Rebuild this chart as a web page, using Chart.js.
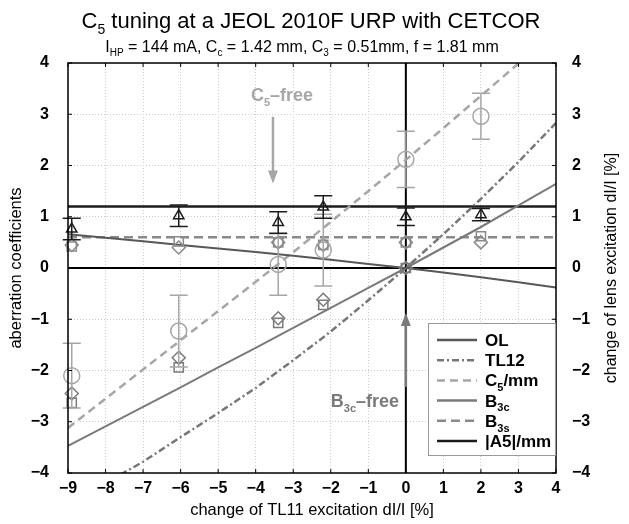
<!DOCTYPE html>
<html>
<head>
<meta charset="utf-8">
<script src="https://cdn.jsdelivr.net/npm/chart.js@4"></script>
<style>
html, body { margin: 0; padding: 0; background: #fff; }
</style>
</head>
<body>
<canvas id="c5chart" width="629" height="524"></canvas>
<script>
// measured points (x = TL11 excitation change)
var measX = [-8.9, -6.05, -3.4, -2.2, 0, 2.0];
var c5Meas = [-2.1, -1.23, 0.07, 0.35, 2.12, 2.96];
var c5Err = [0.63, 0.7, 0.6, 0.7, 0.55, 0.45];
var a5Meas = [0.76, 1.02, 0.89, 1.19, 1.0, 1.04];
var a5Err = [0.21, 0.21, 0.21, 0.22, 0.17, 0.12];
var b3sSquare = [0.42, 0.52, 0.5, 0.45, 0.5, 0.62];
var b3sDiamond = [0.45, 0.4, 0.5, 0.45, 0.5, 0.5];
var b3cSquare = [-2.63, -1.94, -1.07, -0.72, 0];
var b3cDiamond = [-2.45, -1.75, -0.98, -0.62, 0];

// fitted curves
var fitX = [-9, -8, -7, -6, -5, -4, -3, -2, -1, 0, 1, 2, 3, 4];
var olFit = [0.66, 0.59, 0.52, 0.45, 0.38, 0.31, 0.24, 0.16, 0.08, 0, -0.09, -0.18, -0.28, -0.38];
var tl12Fit = [-4.6, -4.2, -3.78, -3.3, -2.83, -2.34, -1.8, -1.24, -0.63, 0, 0.66, 1.35, 2.07, 2.83];
var c5Fit = [-3.12, -2.55, -1.98, -1.41, -0.84, -0.27, 0.31, 0.9, 1.5, 2.11, 2.73, 3.36, 3.99, 4.62];
var b3cFit = [-3.47, -3.09, -2.71, -2.33, -1.94, -1.56, -1.17, -0.78, -0.39, 0, 0.4, 0.8, 1.22, 1.64];
var b3sLevel = 0.6;
var a5Level = 1.2;

var xTicks = [-9, -8, -7, -6, -5, -4, -3, -2, -1, 0, 1, 2, 3, 4];
var yTicks = [-4, -3, -2, -1, 0, 1, 2, 3, 4];

var FONT = '"Liberation Sans", Arial, Helvetica, sans-serif';

var colOL = '#585858', colTL12 = '#777777', colC5 = '#a6a6a6',
    colB3c = '#7a7a7a', colB3s = '#8a8a8a', colA5 = '#1c1c1c';

function pts(xs, ys) {
  return ys.map(function (v, i) { return { x: xs[i], y: v }; });
}

function minusLabel(v) {
  return v < 0 ? '\u2212' + Math.abs(v) : String(v);
}

// text with subscripts: parts = [[text, isSub], ...]
function richWidth(ctx, parts, size, weight) {
  var w = 0;
  parts.forEach(function (p) {
    ctx.font = weight + ' ' + (p[1] ? Math.round(size * 0.62) : size) + 'px ' + FONT;
    w += ctx.measureText(p[0]).width;
  });
  return w;
}
function drawRich(ctx, parts, x, y, size, weight, color, align) {
  ctx.save();
  ctx.fillStyle = color;
  ctx.textBaseline = 'alphabetic';
  ctx.textAlign = 'left';
  var w = richWidth(ctx, parts, size, weight);
  var cx = align === 'center' ? x - w / 2 : x;
  parts.forEach(function (p) {
    var s = p[1] ? Math.round(size * 0.62) : size;
    ctx.font = weight + ' ' + s + 'px ' + FONT;
    ctx.fillText(p[0], cx, p[1] ? y + size * 0.28 : y);
    cx += ctx.measureText(p[0]).width;
  });
  ctx.restore();
}

function errBars(chart, xs, ys, errs, color, half) {
  var ctx = chart.ctx, sx = chart.scales.x, sy = chart.scales.y;
  ctx.save();
  ctx.strokeStyle = color;
  ctx.lineWidth = 1.5;
  ctx.beginPath();
  for (var i = 0; i < xs.length; i++) {
    var px = sx.getPixelForValue(xs[i]);
    var t = sy.getPixelForValue(ys[i] + errs[i]);
    var b = sy.getPixelForValue(ys[i] - errs[i]);
    ctx.moveTo(px, t); ctx.lineTo(px, b);
    ctx.moveTo(px - half, t); ctx.lineTo(px + half, t);
    ctx.moveTo(px - half, b); ctx.lineTo(px + half, b);
  }
  ctx.stroke();
  ctx.restore();
}

function arrow(ctx, x, y1, y2, color) {
  // shaft from y1 to tip y2
  var dir = y2 > y1 ? 1 : -1;
  ctx.save();
  ctx.strokeStyle = color; ctx.fillStyle = color; ctx.lineWidth = 2.5;
  ctx.beginPath(); ctx.moveTo(x, y1); ctx.lineTo(x, y2 - dir * 10); ctx.stroke();
  ctx.beginPath();
  ctx.moveTo(x, y2); ctx.lineTo(x - 5, y2 - dir * 13); ctx.lineTo(x + 5, y2 - dir * 13);
  ctx.closePath(); ctx.fill();
  ctx.restore();
}

var legendItems = [
  { parts: [['OL', 0]], color: colOL, dash: [], width: 2.5 },
  { parts: [['TL12', 0]], color: colTL12, dash: [7, 3, 2, 3], width: 2.5 },
  { parts: [['C', 0], ['5', 1], ['/mm', 0]], color: colC5, dash: [8, 5], width: 2.5 },
  { parts: [['B', 0], ['3c', 1]], color: colB3c, dash: [], width: 2.5 },
  { parts: [['B', 0], ['3s', 1]], color: colB3s, dash: [9, 5], width: 2.5 },
  { parts: [['|A5|/mm', 0]], color: colA5, dash: [], width: 2.5 }
];

var decorations = {
  id: 'decorations',
  beforeDatasetsDraw: function (chart) {
    var ctx = chart.ctx, a = chart.chartArea, sx = chart.scales.x, sy = chart.scales.y;
    var x0 = sx.getPixelForValue(0), y0 = sy.getPixelForValue(0);
    ctx.save();
    ctx.strokeStyle = '#000';
    ctx.lineWidth = 2;
    ctx.beginPath();
    ctx.moveTo(a.left, y0); ctx.lineTo(a.right, y0);
    ctx.moveTo(x0, a.top); ctx.lineTo(x0, a.bottom);
    ctx.stroke();
    ctx.restore();
  },
  afterDatasetsDraw: function (chart) {
    var ctx = chart.ctx, a = chart.chartArea, sx = chart.scales.x, sy = chart.scales.y;
    errBars(chart, measX, c5Meas, c5Err, colC5, 9);
    errBars(chart, measX, a5Meas, a5Err, colA5, 9);

    // annotations
    drawRich(ctx, [['C', 0], ['5', 1], ['\u2013free', 0]],
      sx.getPixelForValue(-3.3), sy.getPixelForValue(3.25), 18, 'bold', colC5, 'center');
    arrow(ctx, sx.getPixelForValue(-3.54), sy.getPixelForValue(2.95), sy.getPixelForValue(1.65), colC5);
    drawRich(ctx, [['B', 0], ['3c', 1], ['\u2013free', 0]],
      sx.getPixelForValue(-2.0), sy.getPixelForValue(-2.72), 18, 'bold', colB3c, 'left');
    arrow(ctx, sx.getPixelForValue(0), sy.getPixelForValue(-2.32), sy.getPixelForValue(-0.88), colB3c);

    // frame and inward ticks
    ctx.save();
    ctx.strokeStyle = '#000';
    ctx.lineWidth = 1.5;
    ctx.strokeRect(a.left, a.top, a.right - a.left, a.bottom - a.top);
    ctx.lineWidth = 1;
    ctx.beginPath();
    xTicks.forEach(function (v) {
      var p = sx.getPixelForValue(v);
      ctx.moveTo(p, a.bottom); ctx.lineTo(p, a.bottom - 4);
      ctx.moveTo(p, a.top); ctx.lineTo(p, a.top + 4);
    });
    yTicks.forEach(function (v) {
      var p = sy.getPixelForValue(v);
      ctx.moveTo(a.left, p); ctx.lineTo(a.left + 4, p);
      ctx.moveTo(a.right, p); ctx.lineTo(a.right - 4, p);
    });
    ctx.stroke();
    ctx.restore();
  },
  afterDraw: function (chart) {
    var ctx = chart.ctx, a = chart.chartArea;

    // legend box
    var bx = 428, by = 323, bw = a.right - bx, bh = 133;
    ctx.save();
    ctx.fillStyle = '#fff';
    ctx.fillRect(bx, by, bw, bh);
    ctx.strokeStyle = '#999';
    ctx.lineWidth = 1;
    ctx.strokeRect(bx + 0.5, by + 0.5, bw - 1, bh - 1);
    legendItems.forEach(function (it, i) {
      var ly = by + 17 + i * 20.2;
      ctx.strokeStyle = it.color;
      ctx.lineWidth = it.width;
      ctx.setLineDash(it.dash);
      ctx.beginPath(); ctx.moveTo(437, ly); ctx.lineTo(477, ly); ctx.stroke();
      ctx.setLineDash([]);
      drawRich(ctx, it.parts, 485, ly + 6, 17, 'bold', '#000', 'left');
    });
    ctx.restore();

    // titles
    drawRich(ctx, [['C', 0], ['5', 1], [' tuning at a JEOL 2010F URP with CETCOR', 0]],
      311, 28, 22, 'normal', '#000', 'center');
    drawRich(ctx, [['I', 0], ['HP', 1], [' = 144 mA, C', 0], ['c', 1], [' = 1.42 mm, C', 0],
      ['3', 1], [' = 0.51mm, f = 1.81 mm', 0]], 302, 52, 16, 'normal', '#000', 'center');

    // right axis title
    ctx.save();
    ctx.translate(612, (a.top + a.bottom) / 2);
    ctx.rotate(-Math.PI / 2);
    ctx.font = '16px ' + FONT;
    ctx.fillStyle = '#000';
    ctx.textAlign = 'center';
    ctx.textBaseline = 'middle';
    ctx.fillText('change of lens excitation dI/I [%]', 0, 0);
    ctx.restore();
  }
};

function lineSet(label, data, color, dash, width) {
  return {
    label: label, data: data, showLine: true, pointRadius: 0,
    borderColor: color, borderWidth: width, borderDash: dash, fill: false
  };
}
function markSet(label, data, style, radius, color) {
  return {
    label: label, data: data, showLine: false, pointStyle: style,
    pointRadius: radius, pointBorderWidth: 1.5, borderColor: color,
    backgroundColor: 'rgba(0,0,0,0)', clip: false
  };
}

new Chart(document.getElementById('c5chart'), {
  type: 'scatter',
  data: {
    datasets: [
      markSet('A5 measured', pts(measX, a5Meas), 'triangle', 6, colA5),
      markSet('C5 measured', pts(measX, c5Meas), 'circle', 8, colC5),
      markSet('B3s square', pts(measX, b3sSquare), 'rect', 6.5, colB3s),
      markSet('B3s diamond', pts(measX, b3sDiamond), 'rectRot', 6.5, colB3s),
      markSet('B3c square', pts(measX, b3cSquare), 'rect', 6.5, colB3c),
      markSet('B3c diamond', pts(measX, b3cDiamond), 'rectRot', 6.5, colB3c),
      lineSet('OL', pts(fitX, olFit), colOL, [], 2),
      lineSet('TL12', pts(fitX, tl12Fit), colTL12, [7, 3, 2, 3], 2.5),
      lineSet('C5/mm', pts(fitX, c5Fit), colC5, [8, 5], 2.5),
      lineSet('B3c', pts(fitX, b3cFit), colB3c, [], 2),
      lineSet('B3s', [{ x: -9, y: b3sLevel }, { x: 4, y: b3sLevel }], colB3s, [9, 5], 2.5),
      lineSet('|A5|/mm', [{ x: -9, y: a5Level }, { x: 4, y: a5Level }], colA5, [], 2.5)
    ]
  },
  options: {
    responsive: false,
    animation: false,
    layout: { padding: { top: 63, left: 0, right: 0, bottom: 0 } },
    plugins: { legend: { display: false }, tooltip: { enabled: false }, title: { display: false } },
    scales: {
      x: {
        type: 'linear', min: -9, max: 4,
        afterBuildTicks: function (s) { s.ticks = xTicks.map(function (v) { return { value: v }; }); },
        afterFit: function (s) { s.height = 51; },
        grid: { color: '#cccccc', lineWidth: 1, drawTicks: false },
        border: { display: false, dash: [1, 2] },
        ticks: {
          color: '#000', padding: 6, maxRotation: 0, autoSkip: false,
          font: { family: FONT, size: 16, weight: 'bold' },
          callback: minusLabel
        },
        title: {
          display: true, text: 'change of TL11 excitation dI/I [%]', color: '#000',
          font: { family: FONT, size: 16.5 }, padding: { top: 0, bottom: 4 }
        }
      },
      y: {
        type: 'linear', position: 'left', min: -4, max: 4,
        afterBuildTicks: function (s) { s.ticks = yTicks.map(function (v) { return { value: v }; }); },
        afterFit: function (s) { s.width = 68; },
        grid: { color: '#cccccc', lineWidth: 1, drawTicks: false },
        border: { display: false, dash: [1, 2] },
        ticks: {
          color: '#000', padding: 19,
          font: { family: FONT, size: 16, weight: 'bold' },
          callback: minusLabel
        },
        title: {
          display: true, text: 'aberration coefficients', color: '#000',
          font: { family: FONT, size: 16.5 }, padding: { top: 7, bottom: 0 }
        }
      },
      y2: {
        type: 'linear', position: 'right', min: -4, max: 4,
        afterBuildTicks: function (s) { s.ticks = yTicks.map(function (v) { return { value: v }; }); },
        afterFit: function (s) { s.width = 73; },
        grid: { display: false, drawTicks: false },
        border: { display: false },
        ticks: {
          color: '#000', padding: 16,
          font: { family: FONT, size: 16, weight: 'bold' },
          callback: minusLabel
        }
      }
    }
  },
  plugins: [decorations]
});
</script>
</body>
</html>
